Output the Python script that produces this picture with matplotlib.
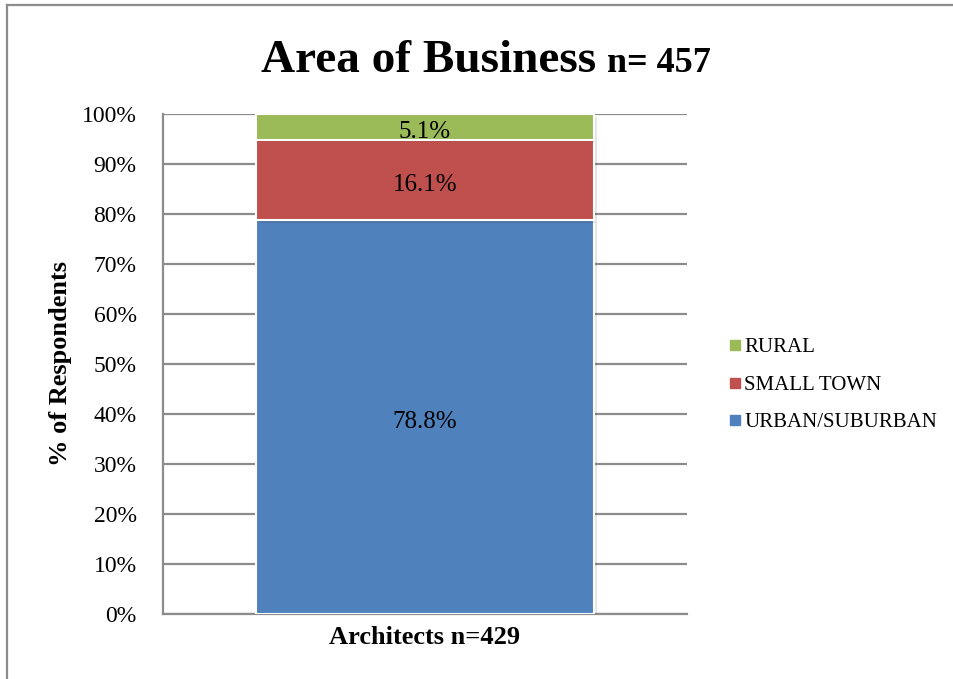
import matplotlib
matplotlib.use("Agg")
import matplotlib.pyplot as plt
from matplotlib.lines import Line2D
import matplotlib.patheffects as pe

# Survey data: share of respondents by area of business
group = "Architects n=429"
segments = ["URBAN/SUBURBAN", "SMALL TOWN", "RURAL"]
shares = [78.8, 16.1, 5.1]
labels = ["78.8%", "16.1%", "5.1%"]
colors = ["#4F81BD", "#C0504D", "#9BBB59"]
yticks = [0, 10, 20, 30, 40, 50, 60, 70, 80, 90, 100]

plt.rcParams["font.family"] = ["Liberation Serif", "DejaVu Serif"]

fig = plt.figure(figsize=(9.54, 6.79), dpi=100)
ax = fig.add_axes([163 / 954, 1 - 614 / 679, (687 - 163) / 954, (614 - 114) / 679])

grid_c = "#8C8C8C"
ax.set_ylim(0, 100)
ax.set_xlim(-0.5, 0.5)
ax.set_yticks(yticks)
ax.set_yticklabels([f"{t}%" for t in yticks], fontsize=17)
for t in yticks:
    ax.axhline(t, color=grid_c, lw=1.6, zorder=0)

bottom = 0.0
for name, val, lab, col in zip(segments, shares, labels, colors):
    bar = ax.bar(0, val, bottom=bottom, width=0.645, color=col,
                 edgecolor="white", linewidth=1.5, zorder=3)
    for p in bar.patches:
        p.set_path_effects([pe.SimplePatchShadow(offset=(2, -2), alpha=0.12),
                            pe.Normal()])
    ax.annotate(lab, (0, bottom + val / 2), xytext=(0, -3.5),
                textcoords="offset points", ha="center", va="center",
                fontsize=18, color="black", zorder=4)
    bottom += val

ax.set_xticks([0])
ax.set_xticklabels([group], fontsize=19, fontweight="bold")
ax.tick_params(axis="both", length=0)
ax.tick_params(axis="y", pad=19)
ax.tick_params(axis="x", pad=9)

for side in ["top", "right"]:
    ax.spines[side].set_visible(False)
for side in ["left", "bottom"]:
    ax.spines[side].set_color(grid_c)
    ax.spines[side].set_linewidth(1.6)

ax.set_ylabel("% of Respondents", fontsize=19, fontweight="bold", labelpad=7)

# Legend, top entry is the top segment
handles = [Line2D([], [], marker="s", linestyle="none", markersize=6.5,
                  markerfacecolor=c, markeredgecolor=c)
           for c in colors[::-1]]
fig.legend(handles, segments[::-1], loc="center left",
           bbox_to_anchor=(718 / 954, 1 - 385 / 679), frameon=False,
           fontsize=15, handlelength=0.6, handletextpad=0.15,
           labelspacing=0.85, borderpad=0)

# Title in two sizes
fig.text(596 / 954, 1 - 72 / 679, "Area of Business", ha="right", va="baseline",
         fontsize=34, fontweight="bold")
fig.text(607 / 954, 1 - 72 / 679, "n= 457", ha="left", va="baseline",
         fontsize=26, fontweight="bold")

# Chart frame lines
fig.add_artist(Line2D([7 / 954, 7 / 954], [0, 1 - 5 / 679], transform=fig.transFigure,
                      color="#8C8C8C", lw=1.6))
fig.add_artist(Line2D([7 / 954, 1], [1 - 5 / 679, 1 - 5 / 679], transform=fig.transFigure,
                      color="#8C8C8C", lw=1.6))

fig.savefig("out.png", dpi=100)
